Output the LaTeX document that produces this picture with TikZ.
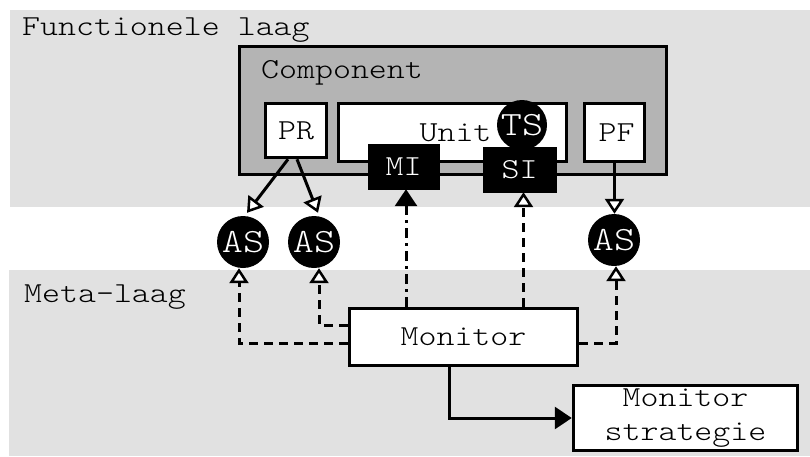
\documentclass[tikz,border=0pt]{standalone}
\usepackage{fontspec}
\newfontfamily\monofont[FakeStretch=1.18]{lmmonolt10-regular.otf}
\usetikzlibrary{arrows.meta}
\definecolor{bandgray}{HTML}{E1E1E1}
\definecolor{compgray}{HTML}{B4B4B4}
\begin{document}
\begin{tikzpicture}[x=1pt,y=-1pt,
  font=\monofont\fontsize{29}{34}\selectfont,
  box/.style={draw=black, line width=3.5pt, fill=white, inner sep=0pt, rectangle},
  blackbox/.style={draw=black, fill=black, text=white, inner sep=0pt, rectangle},
  blob/.style={circle, fill=black, text=white, inner sep=0pt, minimum size=52pt,
    font=\monofont\fontsize{34}{34}\selectfont},
  lbl/.style={anchor=base west, inner sep=0pt},
  conn/.style={line width=3pt, draw=black},
  openhead/.style={-{Triangle[length=15pt,width=19pt,fill=white,line width=2.5pt]}},
  fullhead/.style={-{Triangle[length=17pt,width=22pt,fill=black]}},
  dashline/.style={dash pattern=on 9pt off 6pt},
  dashdotline/.style={dash pattern=on 10pt off 5pt on 3pt off 5pt}
]
\useasboundingbox (0,0) rectangle (810,456);
% layers
\fill[bandgray] (10,10) rectangle (810,207);
\fill[bandgray] (9,270) rectangle (810,456);
\node[lbl] (funclbl) at (22,35) {Functionele laag};
\node[lbl] (metalbl) at (24,302) {Meta-laag};
% component
\node[box, fill=compgray, minimum width=427pt, minimum height=128pt] (comp) at (453,110.5) {};
\node[lbl] (complbl) at (261,78) {Component};
\node[box, minimum width=61pt, minimum height=54pt] (pr) at (296,130.5) {PR};
\node[box, minimum width=228pt, minimum height=58pt] (unit) at (452.5,132.5) {\hspace*{6pt}Unit};
\node[box, minimum width=60pt, minimum height=58pt] (pf) at (614.5,132.5) {\hspace*{4pt}PF};
\node[blob, minimum size=50pt] (ts) at (522,125) {TS};
\node[blackbox, minimum width=73pt, minimum height=45pt] (si) at (519.5,169.5) {SI};
\node[blackbox, minimum width=71pt, minimum height=45pt] (mi) at (403.5,166.5) {MI};
% AS
\node[blob] (as1) at (243,242) {AS};
\node[blob] (as2) at (314,242) {AS};
\node[blob] (as3) at (614,240) {AS};
% meta
\node[box, minimum width=228pt, minimum height=57pt] (mon) at (463.5,337) {Monitor};
\node[box, minimum width=224pt, minimum height=65pt, align=center] (strat) at (685.5,418) {Monitor\\strategie};
% connectors
\draw[conn, openhead] ([xshift=-8pt]pr.south) -- ([xshift=4pt,yshift=3pt]as1.north);
\draw[conn, openhead] ([xshift=1pt]pr.south) -- ([xshift=4pt,yshift=3pt]as2.north);
\draw[conn, openhead] (pf.south) -- (pf.south |- as3.north);
\draw[conn, fullhead, dashdotline] ([xshift=2.5pt]mi.south |- mon.north) -- ([xshift=2.5pt]mi.south);
\draw[conn, openhead, dashline] ([xshift=4pt]si.south |- mon.north) -- ([xshift=4pt]si.south);
\draw[conn, openhead, dashline] ([yshift=-6pt]mon.west) -| ([xshift=-4pt]as1.south);
\draw[conn, openhead, dashline] ([yshift=12pt]mon.west) -| ([xshift=5pt]as2.south);
\draw[conn, openhead, dashline] ([yshift=-6pt]mon.east) -| ([xshift=2pt]as3.south);
\draw[conn, fullhead] ([xshift=-14.5pt]mon.south) |- (strat.west);
\end{tikzpicture}
\end{document}
